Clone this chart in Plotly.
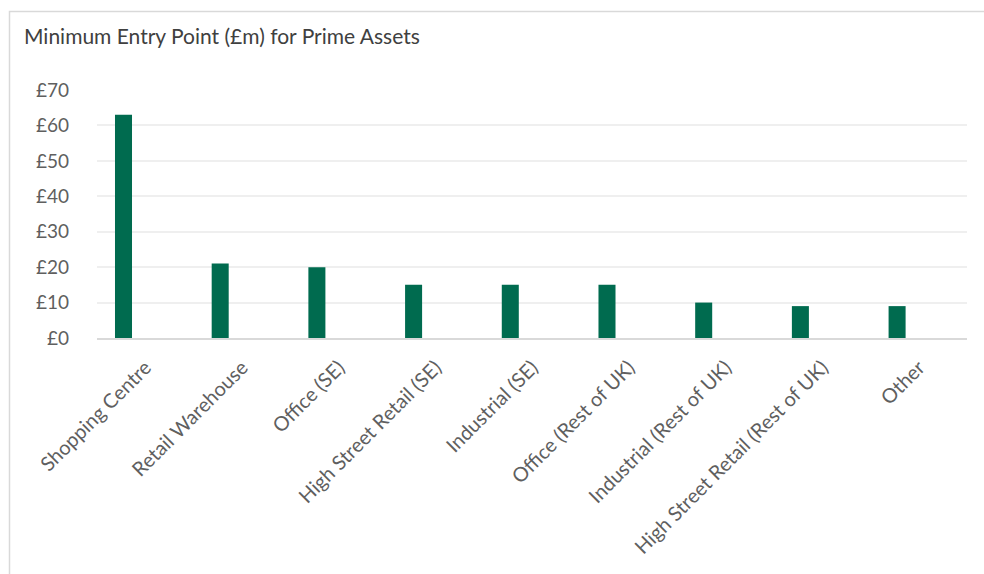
import plotly.graph_objects as go

categories = ["Shopping Centre", "Retail Warehouse", "Office (SE)", "High Street Retail (SE)",
              "Industrial (SE)", "Office (Rest of UK)", "Industrial (Rest of UK)",
              "High Street Retail (Rest of UK)", "Other"]
values = [63, 21, 20, 15, 15, 15, 10, 9, 9]
tick_vals = [0, 10, 20, 30, 40, 50, 60, 70]
tick_text = ["£0", "£10", "£20", "£30", "£40", "£50", "£60", "£70"]

FONT = "Lato, 'Open Sans', sans-serif"

fig = go.Figure(go.Bar(
    x=list(range(len(categories))), y=values,
    marker=dict(color="#006b4f", line=dict(width=0)),
    width=0.176,
))

W, H = 984, 574
ml, mr, mt, mb = 97, 17, 90, 236
pw, ph = W - ml - mr, H - mt - mb

fig.update_layout(
    width=W, height=H,
    margin=dict(l=ml, r=mr, t=mt, b=mb),
    paper_bgcolor="white", plot_bgcolor="white",
    font=dict(family=FONT, color="#595959", size=15),
    title=dict(text="Minimum Entry Point (£m) for Prime Assets",
               x=24 / W, xanchor="left", xref="container",
               y=1 - 29 / H, yanchor="top", yref="container",
               font=dict(size=21, color="#404040", family=FONT)),
    showlegend=False,
    xaxis=dict(range=[-0.274, 8.723], tickmode="array",
               tickvals=list(range(len(categories))), ticktext=categories,
               tickangle=-45, showgrid=False, zeroline=False,
               showline=True, linecolor="#d9d9d9", linewidth=2,
               ticks="", ticklabelstandoff=8, ticklabelshift=22,
               tickfont=dict(size=20, color="#5f5f5f")),
    yaxis=dict(range=[0, 70], tickmode="array", tickvals=tick_vals, ticktext=tick_text,
               showgrid=True, gridcolor="#efefef", gridwidth=1.5,
               zeroline=False, showline=False, ticks="",
               ticklabelstandoff=27, tickfont=dict(size=19, color="#5f5f5f")),
    shapes=[dict(type="rect", xref="paper", yref="paper",
                 x0=(9.5 - ml) / pw, x1=1.5,
                 y0=-2, y1=(H - mb - 11.5) / ph,
                 line=dict(color="#d9d9d9", width=1.5), fillcolor="rgba(0,0,0,0)",
                 layer="below")],
)

fig.write_html("out.html")
